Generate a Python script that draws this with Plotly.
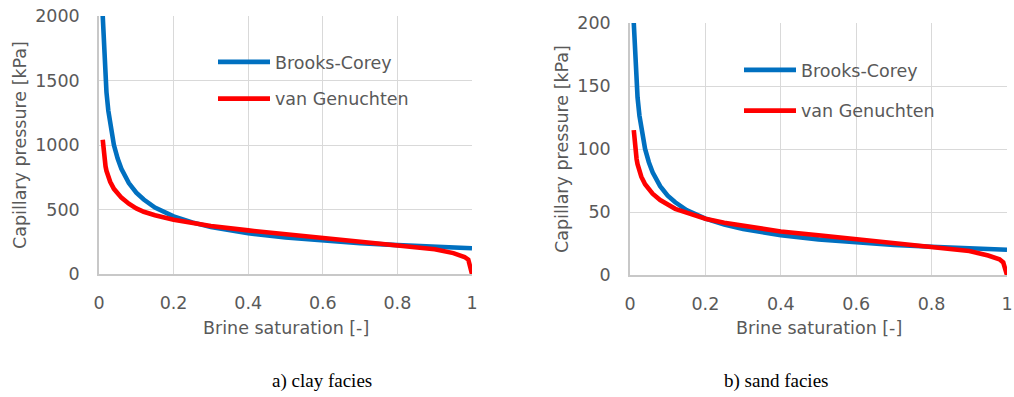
import plotly.graph_objects as go

# ---- data ----
saturation = [0.01, 0.0125, 0.015, 0.0175, 0.02, 0.025, 0.03, 0.04, 0.05, 0.06, 0.08, 0.1, 0.12,
              0.15, 0.2, 0.25, 0.3, 0.4, 0.5, 0.6, 0.7, 0.8, 0.85, 0.9, 0.95, 0.98, 0.99, 1.0]

clay_brooks_corey = [2000, 1790, 1630, 1510, 1410, 1265, 1155, 1000, 895, 815, 705, 630, 577,
                     515, 447, 400, 365, 316, 283, 258, 239, 224, 217, 211, 205, 202, 201, 200]
clay_van_genuchten = [1040, 940, 880, 835, 800, 750, 715, 660, 622, 592, 545, 508, 482,
                      455, 420, 393, 372, 338, 308, 280, 254, 226, 210, 192, 162, 132, 112, 0]

sand_brooks_corey = [200, 179, 163, 151, 141, 126.5, 115.5, 100, 89.5, 81.5, 70.5, 63, 57.7,
                     51.5, 44.7, 40, 36.5, 31.6, 28.3, 25.8, 23.9, 22.4, 21.7, 21.1, 20.5, 20.2, 20.1, 20]
sand_van_genuchten = [115, 104, 97, 92, 88, 82, 78, 72, 68, 64.5, 59.5, 55.5, 52.5,
                      49.5, 44.6, 41.5, 39.3, 34.5, 31.5, 28.5, 25.8, 22.8, 21, 19, 15.5, 12.5, 10, 0]

series_names = ["Brooks-Corey", "van Genuchten"]
series_colors = ["#0070C0", "#FF0000"]
x_title = "Brine saturation [-]"
y_title = "Capillary pressure [kPa]"
captions = ["a) clay facies", "b) sand facies"]

FONT = "DejaVu Sans"
GREY = "#595959"

fig = go.Figure()

panels = [
    (clay_brooks_corey, clay_van_genuchten, "x", "y", "legend"),
    (sand_brooks_corey, sand_van_genuchten, "x2", "y2", "legend2"),
]
for bc, vg, xa, ya, lg in panels:
    for i, (vals, name, col) in enumerate(zip([bc, vg], series_names, series_colors)):
        fig.add_trace(go.Scatter(
            x=saturation, y=vals, mode="lines", name=name,
            line=dict(color=col, width=4.6),
            xaxis=xa, yaxis=ya, legend=lg, legendgroup=lg + str(i),
        ))

axis_common = dict(
    showgrid=True, gridcolor="#D9D9D9", gridwidth=1.3,
    showline=True, linecolor="#C8C8C8", linewidth=1.5,
    zeroline=False, ticks="", automargin=False, ticklabeloverflow="allow",
    tickfont=dict(family=FONT, size=17.5, color=GREY),
)

fig.update_layout(
    template="none",
    width=1014, height=397,
    margin=dict(l=0, r=0, t=0, b=0, pad=0),
    paper_bgcolor="white", plot_bgcolor="white",
    showlegend=True,
    xaxis=dict(domain=[99 / 1014, 472 / 1014], range=[0, 1], dtick=0.2, anchor="y",
               ticklabelstandoff=12, **axis_common),
    yaxis=dict(domain=[1 - 274 / 397, 1 - 16 / 397], range=[0, 2000], dtick=500, anchor="x",
               ticklabelstandoff=14, **axis_common),
    xaxis2=dict(domain=[630 / 1014, 1007 / 1014], range=[0, 1], dtick=0.2, anchor="y2",
                ticklabelstandoff=12, **axis_common),
    yaxis2=dict(domain=[1 - 275 / 397, 1 - 23 / 397], range=[0, 200], dtick=50, anchor="x2",
                ticklabelstandoff=14, **axis_common),
    legend=dict(x=213 / 1014, y=1 - 44 / 397, xanchor="left", yanchor="top",
                bgcolor="rgba(0,0,0,0)", borderwidth=0, itemwidth=52,
                traceorder="grouped", tracegroupgap=11,
                font=dict(family=FONT, size=17.5, color=GREY)),
    legend2=dict(x=739 / 1014, y=1 - 52 / 397, xanchor="left", yanchor="top",
                 bgcolor="rgba(0,0,0,0)", borderwidth=0, itemwidth=52,
                 traceorder="grouped", tracegroupgap=15,
                 font=dict(family=FONT, size=17.5, color=GREY)),
)

annotations = [
    dict(x=285.5 / 1014, y=1 - 328 / 397, text=x_title),
    dict(x=819 / 1014, y=1 - 328 / 397, text=x_title),
    dict(x=20 / 1014, y=1 - 145 / 397, text=y_title, textangle=-90),
    dict(x=562 / 1014, y=1 - 149 / 397, text=y_title, textangle=-90),
]
for a in annotations:
    fig.add_annotation(xref="paper", yref="paper", xanchor="center", yanchor="middle",
                       showarrow=False, font=dict(family=FONT, size=17.5, color=GREY), **a)

for cx, cap in zip([322, 776], captions):
    fig.add_annotation(xref="paper", yref="paper", x=cx / 1014, y=1 - 381 / 397,
                       xanchor="center", yanchor="middle", showarrow=False, text=cap,
                       font=dict(family="Liberation Serif", size=19, color="black"))

fig.write_html(
    "out.html",
    config={"displayModeBar": False},
    post_script=("document.documentElement.style.margin='0';"
                 "document.body.style.margin='0';"
                 "document.documentElement.style.overflow='hidden';"
                 "document.body.style.overflow='hidden';"),
)
